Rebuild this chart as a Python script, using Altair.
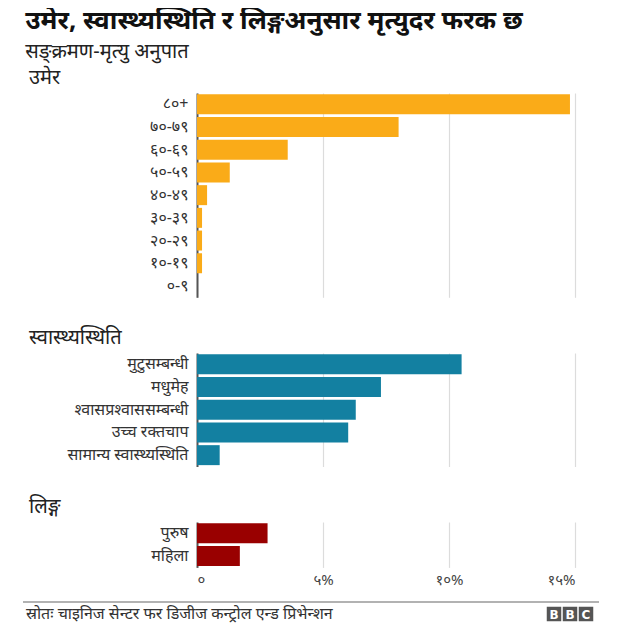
import json
import altair as alt
import pandas as pd

# ---- data ----
age_labels = ["८०+", "७०-७९", "६०-६९", "५०-५९", "४०-४९", "३०-३९", "२०-२९", "१०-१९", "०-९"]
age_values = [14.8, 8.0, 3.6, 1.3, 0.4, 0.2, 0.2, 0.2, 0.0]

health_labels = ["मुटुसम्बन्धी", "मधुमेह", "श्वासप्रश्वाससम्बन्धी", "उच्च रक्तचाप", "सामान्य स्वास्थ्यस्थिति"]
health_values = [10.5, 7.3, 6.3, 6.0, 0.9]

sex_labels = ["पुरुष", "महिला"]
sex_values = [2.8, 1.7]

x_ticks = [0, 5, 10, 15]
x_tick_labels = ["०", "५%", "१०%", "१५%"]

title_text = "उमेर, स्वास्थ्यस्थिति र लिङ्गअनुसार मृत्युदर फरक छ"
subtitle_text = "सङ्क्रमण-मृत्यु अनुपात"
panel_titles = ["उमेर", "स्वास्थ्यस्थिति", "लिङ्ग"]
source_text = "स्रोतः चाइनिज सेन्टर फर डिजीज कन्ट्रोल एन्ड प्रिभेन्शन"
logo_letters = ["B", "B", "C"]

FONT = "Noto Sans"
W = 378
STEP = 22.7

label_expr = "%s[indexof(%s, datum.value)]" % (json.dumps(x_tick_labels, ensure_ascii=False), json.dumps(x_ticks))


def panel(labels, values, color, title, show_x):
    df = pd.DataFrame({"label": labels, "value": values})
    xaxis = alt.Axis(values=x_ticks, grid=True, gridColor="#dcdcdc", gridWidth=1.2,
                     domain=False, ticks=False, labels=show_x, labelExpr=label_expr,
                     labelFontSize=15, labelColor="#444", labelPadding=5, title=None,
                     labelFont=FONT)
    yaxis = alt.Axis(title=None, domain=True, domainColor="#555", domainWidth=2, ticks=False,
                     labelFontSize=16, labelColor="#333", labelPadding=9, labelLimit=300,
                     grid=False, labelFont=FONT)
    return alt.Chart(df, title=alt.TitleParams(title, anchor="start", frame="group", dx=-168,
                                              fontSize=20, fontWeight="normal", color="#222",
                                              offset=5, font=FONT)).mark_bar(color=color).encode(
        x=alt.X("value:Q", scale=alt.Scale(domain=[0, 15], nice=False), axis=xaxis),
        y=alt.Y("label:N", sort=labels, scale=alt.Scale(paddingInner=0.12, paddingOuter=0.06), axis=yaxis),
    ).properties(width=W, height=len(labels) * STEP)


p1 = panel(age_labels, age_values, "#FAAB18", panel_titles[0], False)
p2 = panel(health_labels, health_values, "#1380A1", panel_titles[1], False)
p3 = panel(sex_labels, sex_values, "#990000", panel_titles[2], True)

footer_df = pd.DataFrame({"t": [source_text]})
rule = alt.Chart(footer_df).mark_rule(color="#999999", strokeWidth=1.5).encode(
    x=alt.value(-174), x2=alt.value(402), y=alt.value(0))
src = alt.Chart(footer_df).mark_text(align="left", baseline="middle", fontSize=16, color="#333",
                                     font=FONT).encode(x=alt.value(-171), y=alt.value(12), text="t:N")
logo_df = pd.DataFrame({"i": [0, 1, 2], "ch": logo_letters})
lx = alt.X("i:O", scale=alt.Scale(type="point", range=[357, 389], padding=0), axis=None)
sq = alt.Chart(logo_df).mark_square(size=210, color="#555555", opacity=1).encode(x=lx, y=alt.value(12))
lt = alt.Chart(logo_df).mark_text(fontSize=12, fontWeight="bold", color="white", font="DejaVu Sans",
                                  baseline="middle").encode(x=lx, y=alt.value(12.5), text="ch:N")
footer = alt.layer(rule, src, sq, lt).properties(width=W, height=22)

chart = alt.vconcat(
    alt.vconcat(p1, p2, p3, spacing=30),
    footer,
    spacing=13,
).properties(
    title=alt.TitleParams(title_text, subtitle=subtitle_text, anchor="start", fontSize=26,
                          fontWeight="bold", color="#111", font=FONT, subtitleFont=FONT,
                          subtitleFontSize=20, subtitleColor="#222", subtitlePadding=8,
                          offset=6, dx=3),
    padding={"left": 14, "top": 0, "right": 5, "bottom": 5},
).configure_view(stroke=None)

chart.save("out.html", embed_options={"renderer": "svg", "actions": False})
